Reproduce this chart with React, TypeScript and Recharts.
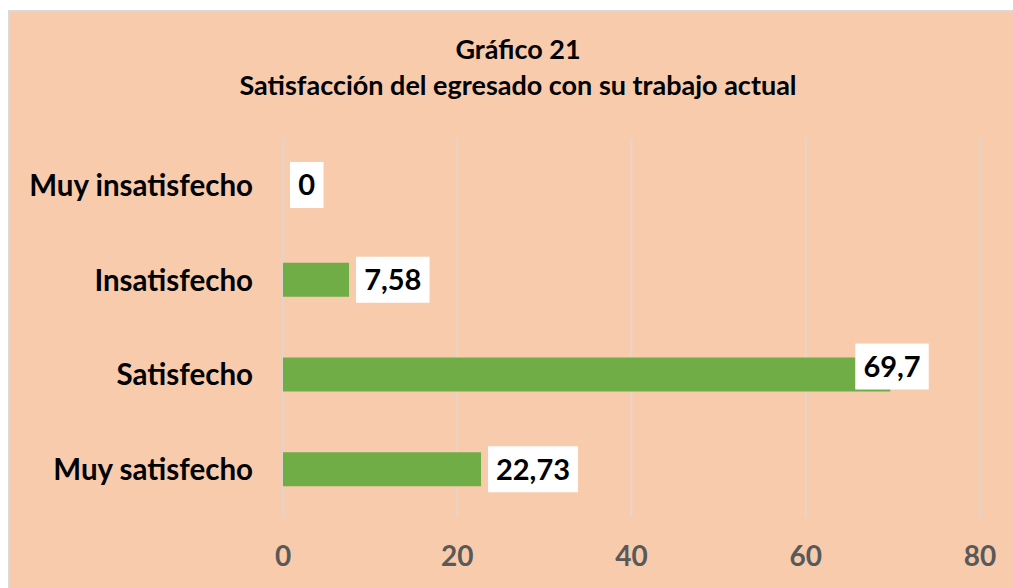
import { BarChart, Bar, XAxis, YAxis, CartesianGrid, LabelList } from "recharts";

const categories = ["Muy insatisfecho", "Insatisfecho", "Satisfecho", "Muy satisfecho"];
const percentages = [0, 7.58, 69.7, 22.73];
const xTicks = [0, 20, 40, 60, 80];
const titleLines = ["Gráfico 21", "Satisfacción del egresado con su trabajo actual"];

const data = categories.map((name, i) => ({ name, value: percentages[i] }));

const FONT = "Lato, 'Open Sans', sans-serif";

const fmt = (v: number) => String(v).replace(".", ",");

const textWidth = (s: string) =>
  s.split("").reduce((w, c) => w + (c === "," ? 7 : 16.5), 0);

function ValueLabel(props: any) {
  const { x, y, width, height, value } = props;
  const label = fmt(Number(value));
  const boxW = textWidth(label) + 17;
  const boxH = 46;
  const end = Number(x) + Number(width);
  const cy = Number(y) + Number(height) / 2;
  // the longest bar gets its label pulled back over the bar end
  const overlap = Number(value) > 50;
  const bx = overlap ? end - 35 : end + 7;
  const by = (overlap ? cy - 8 : cy) - boxH / 2;
  return (
    <g>
      <rect x={bx} y={by} width={boxW} height={boxH} fill="#ffffff" />
      <text
        x={bx + boxW / 2}
        y={by + boxH / 2}
        dy="0.36em"
        textAnchor="middle"
        fontFamily={FONT}
        fontWeight={700}
        fontSize={29}
        fill="#000"
      >
        {label}
      </text>
    </g>
  );
}

function CategoryTick(props: any) {
  const { x, y, payload } = props;
  return (
    <text x={x} y={y} dy="0.36em" textAnchor="end" fontFamily={FONT} fontWeight={700} fontSize={29.5} fill="#000">
      {payload.value}
    </text>
  );
}

function ValueTick(props: any) {
  const { x, y, payload } = props;
  return (
    <text x={x} y={y + 39} dy="0.36em" textAnchor="middle" fontFamily={FONT} fontWeight={700} fontSize={28} fill="#595959">
      {payload.value}
    </text>
  );
}

export default function App() {
  return (
    <div style={{ position: "relative", width: 1013, height: 588, background: "#fff", overflow: "hidden" }}>
      <style>{`body{margin:0;overflow:hidden}`}</style>
      <div
        style={{
          position: "absolute",
          left: 8,
          top: 10,
          width: 1005,
          height: 578,
          boxSizing: "border-box",
          borderTop: "2px solid #d9d9d9",
          borderLeft: "2px solid #d9d9d9",
          background: "#F8CBAD",
        }}
      >
        <BarChart
          width={1003}
          height={576}
          data={data}
          layout="vertical"
          margin={{ top: 126, right: 33, bottom: 0, left: 0 }}
          barCategoryGap={0}
        >
          <CartesianGrid horizontal={false} stroke="#d9d9d9" strokeWidth={1.5} />
          <XAxis
            type="number"
            domain={[0, 80]}
            ticks={xTicks}
            axisLine={false}
            tickLine={false}
            tickSize={0}
            tickMargin={0}
            height={71}
            tick={<ValueTick />}
            interval={0}
          />
          <YAxis
            type="category"
            dataKey="name"
            width={273}
            axisLine={false}
            tickLine={false}
            tickSize={0}
            tickMargin={30}
            tick={<CategoryTick />}
            interval={0}
          />
          <Bar dataKey="value" fill="#70AD47" barSize={34} minPointSize={0.01} isAnimationActive={false}>
            <LabelList dataKey="value" content={<ValueLabel />} />
          </Bar>
        </BarChart>
      </div>
      <svg style={{ position: "absolute", left: 0, top: 0 }} width={1013} height={120}>
        {titleLines.map((t, i) => (
          <text
            key={t}
            x={518}
            y={59 + i * 36}
            textAnchor="middle"
            fontFamily={FONT}
            fontWeight={700}
            fontSize={27}
            fill="#000"
          >
            {t}
          </text>
        ))}
      </svg>
    </div>
  );
}
